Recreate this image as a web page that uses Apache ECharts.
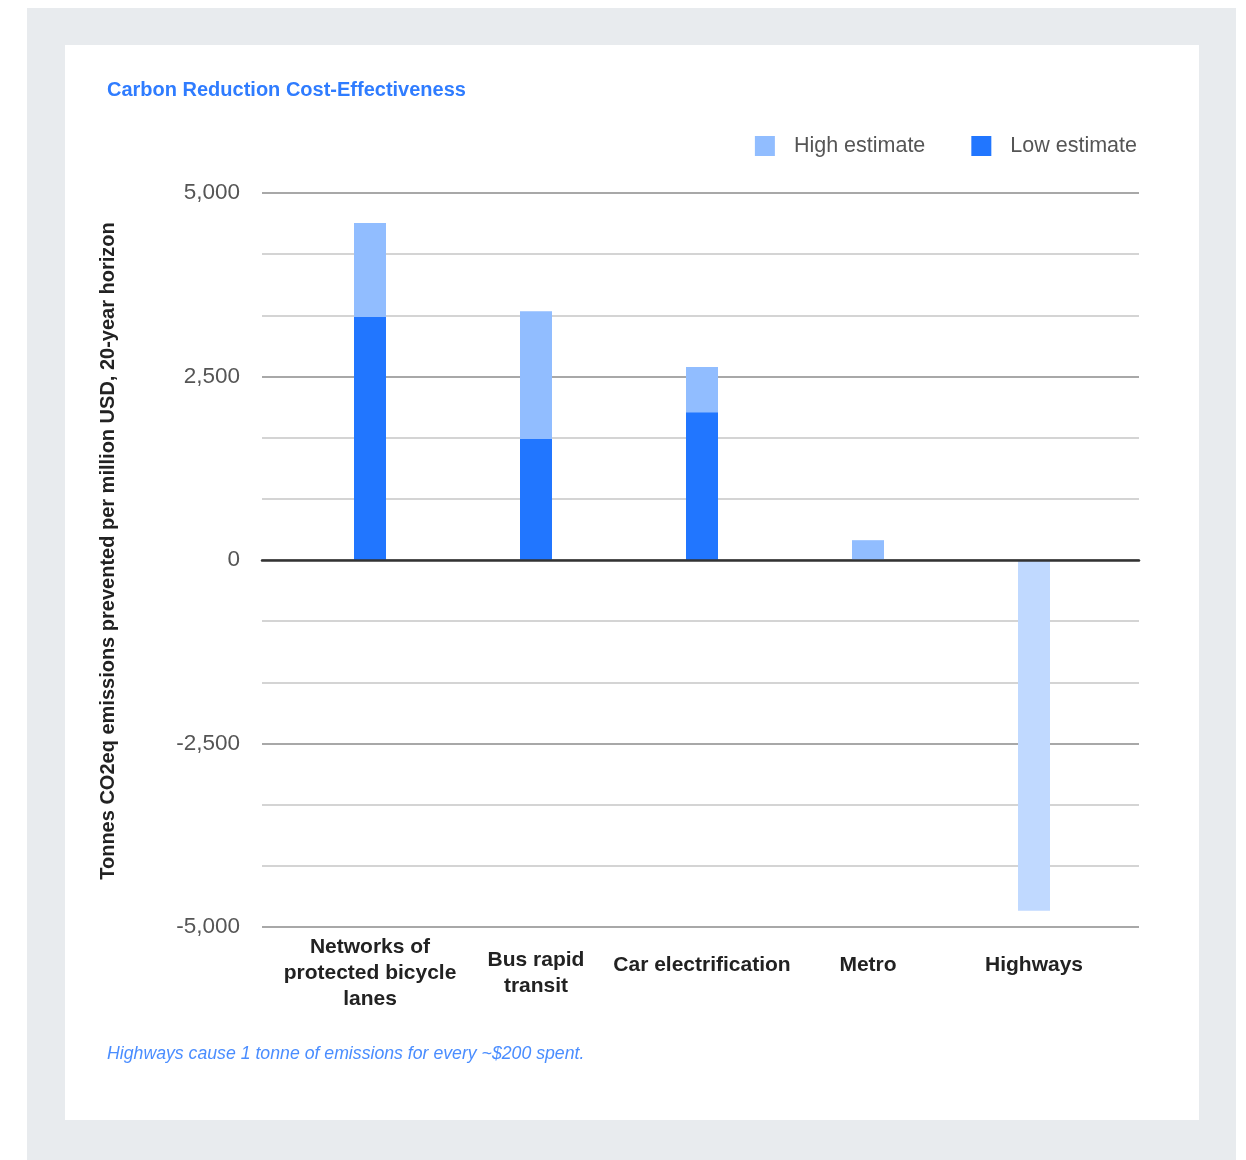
<!DOCTYPE html>
<html>
<head>
<meta charset="utf-8">
<script src="https://cdn.jsdelivr.net/npm/echarts@6/dist/echarts.min.js"></script>
<style>
  html, body { margin: 0; padding: 0; background: #fff; }
  #chart { width: 1246px; height: 1160px; }
</style>
</head>
<body>
<div id="chart"></div>
<script>
// values
const categories = [
  'Networks of\nprotected bicycle\nlanes',
  'Bus rapid\ntransit',
  'Car electrification',
  'Metro',
  'Highways'
];
const highEstimate = [4590, 3390, 2630, 270, -4780];
const lowEstimate = [3310, 1650, 2010, null, null];
const yTicks = [-5000, -2500, 0, 2500, 5000];

const BLUE_DARK = '#2176ff';
const BLUE_LIGHT = '#91bdff';
const BLUE_PALE = '#c0d9ff';

let chart = echarts.init(document.getElementById('chart'));

const highData = highEstimate.map(function (v) {
  if (v < 0) return { value: v, itemStyle: { color: BLUE_PALE } };
  return v;
});

const option = {
  backgroundColor: '#fff',
  animation: false,
  title: {
    text: 'Carbon Reduction Cost-Effectiveness',
    left: 102,
    top: 75,
    textStyle: {
      fontFamily: 'Liberation Sans',
      fontSize: 20,
      fontWeight: 'bold',
      color: '#2f7cff'
    }
  },
  graphic: [
    { type: 'rect', z: -10, silent: true,
      shape: { x: 27, y: 8, width: 1209, height: 1152 },
      style: { fill: '#e8ebee' } },
    { type: 'rect', z: -9, silent: true,
      shape: { x: 65, y: 45, width: 1134, height: 1075 },
      style: { fill: '#ffffff' } },
    { type: 'text', left: 107, top: 1045,
      style: {
        text: 'Highways cause 1 tonne of emissions for every ~$200 spent.',
        font: 'italic 17.7px "Liberation Sans"',
        fill: '#4a8dff'
      } }
  ],
  legend: {
    right: 104,
    top: 130,
    itemWidth: 20,
    itemHeight: 20,
    itemGap: 46,
    icon: 'rect',
    textStyle: {
      fontFamily: 'Liberation Sans',
      fontSize: 21.5,
      color: '#555',
      padding: [0, 0, 0, 14]
    },
    data: ['High estimate', 'Low estimate']
  },
  grid: [
    { left: 262, right: 107, top: 193, bottom: 233 },
    { left: 287, right: 129, top: 193, bottom: 233 }
  ],
  xAxis: [
    {
      gridIndex: 0,
      type: 'category',
      data: categories,
      axisLabel: { show: false },
      axisTick: { show: false },
      axisLine: { show: true, onZero: true, lineStyle: { color: '#333', width: 2.5 } },
      splitLine: { show: false },
      z: 5
    },
    {
      gridIndex: 1,
      type: 'category',
      data: categories,
      axisLine: { show: false },
      axisTick: { show: false },
      axisLabel: {
        fontFamily: 'Liberation Sans',
        fontSize: 21,
        fontWeight: 'bold',
        color: '#222',
        lineHeight: 26,
        interval: 0,
        margin: 46,
        verticalAlign: 'middle',
        formatter: function (v) {
          // single-line labels sit a little higher in the original
          if (v.indexOf('\n') === -1) return '{one|' + v + '}';
          return v;
        },
        rich: {
          one: {
            fontFamily: 'Liberation Sans',
            fontSize: 21,
            fontWeight: 'bold',
            color: '#222',
            padding: [0, 0, 16, 0]
          }
        }
      }
    }
  ],
  yAxis: [
    {
      gridIndex: 0,
      type: 'value',
      min: -5000,
      max: 5000,
      interval: 5000 / 6,
      name: 'Tonnes CO2eq emissions prevented per million USD, 20-year horizon',
      nameLocation: 'middle',
      nameGap: 144,
      nameTextStyle: {
        fontFamily: 'Liberation Sans',
        fontSize: 20,
        fontWeight: 'bold',
        color: '#222',
        padding: [0, 0, 0, 18]
      },
      axisLine: { show: false },
      axisTick: { show: false },
      axisLabel: {
        margin: 22,
        fontFamily: 'Liberation Sans',
        fontSize: 22.5,
        color: '#555',
        padding: [4, 0, 0, 0],
        formatter: function (v) {
          const r = Math.round(v);
          if (yTicks.indexOf(r) === -1) return '';
          return r.toLocaleString('en-US');
        }
      },
      splitLine: {
        lineStyle: { color: ['#a8a8a8', '#d4d4d4', '#d4d4d4'], width: 2 }
      }
    },
    {
      gridIndex: 1,
      type: 'value',
      min: -5000,
      max: 5000,
      interval: 5000 / 6,
      show: false,
      splitLine: { show: false }
    }
  ],
  series: [
    {
      name: 'High estimate',
      type: 'bar',
      xAxisIndex: 1,
      yAxisIndex: 1,
      barWidth: 32,
      barGap: '-100%',
      itemStyle: { color: BLUE_LIGHT },
      data: highData,
      z: 3
    },
    {
      name: 'Low estimate',
      type: 'bar',
      xAxisIndex: 1,
      yAxisIndex: 1,
      barWidth: 32,
      barGap: '-100%',
      itemStyle: { color: BLUE_DARK },
      data: lowEstimate,
      z: 4
    }
  ]
};

chart.setOption(option);
</script>
</body>
</html>
